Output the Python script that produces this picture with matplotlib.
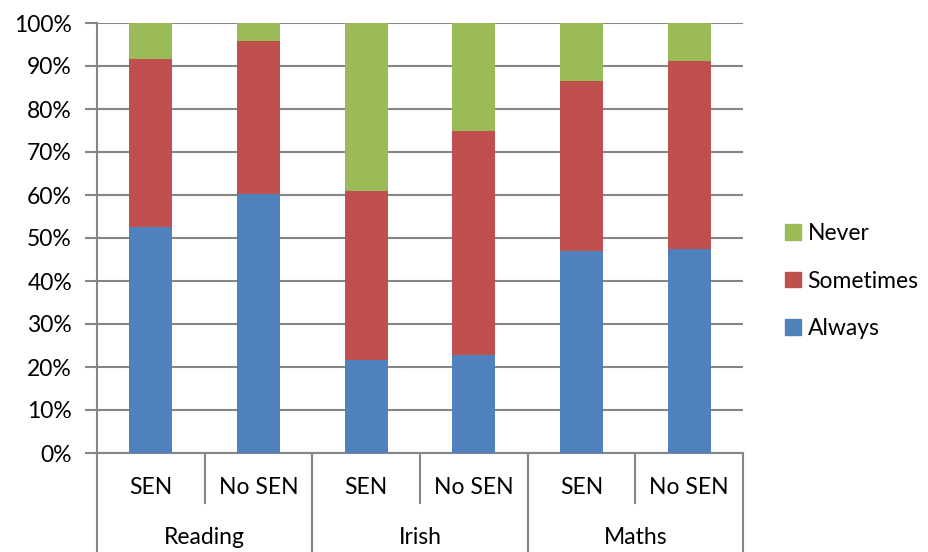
import matplotlib
matplotlib.use("Agg")
import matplotlib.pyplot as plt
from matplotlib.patches import Patch
from matplotlib.ticker import FuncFormatter
import numpy as np

groups = ["Reading", "Irish", "Maths"]
subgroups = ["SEN", "No SEN"]
always = [52.6, 60.2, 21.6, 22.7, 46.9, 47.5]
sometimes = [39.1, 35.7, 39.3, 52.3, 39.7, 43.6]
never = [8.3, 4.1, 39.1, 25.0, 13.4, 8.9]

c_always = "#4F81BD"
c_some = "#C0504D"
c_never = "#9BBB59"
grid_c = "#868686"

plt.rcParams['font.family'] = ['Lato', 'DejaVu Sans']
FS = 16.5

W, H = 929, 552
fig = plt.figure(figsize=(W / 100, H / 100), dpi=100)
L, R, T, B = 97, 743, 23, 453
ax = fig.add_axes([L / W, (H - B) / H, (R - L) / W, (B - T) / H])

x = np.arange(len(always))
bw = 0.4
ax.bar(x, always, bw, color=c_always, zorder=3)
ax.bar(x, sometimes, bw, bottom=always, color=c_some, zorder=3)
bot2 = np.array(always) + np.array(sometimes)
ax.bar(x, never, bw, bottom=bot2, color=c_never, zorder=3)

ax.set_xlim(-0.5, len(always) - 0.5)
ax.set_ylim(0, 100)
ax.set_yticks(np.arange(0, 101, 10))
ax.yaxis.set_major_formatter(FuncFormatter(lambda v, p: f"{int(v)}%"))
ax.tick_params(axis='y', length=9, width=1.5, color=grid_c, labelsize=FS, pad=9)
ax.tick_params(axis='x', length=0, labelbottom=False)
ax.grid(axis='y', color=grid_c, linewidth=1.5, zorder=0)
for s in ['top', 'right']:
    ax.spines[s].set_visible(False)
for s in ['left', 'bottom']:
    ax.spines[s].set_color(grid_c)
    ax.spines[s].set_linewidth(1.5)

# two-level category axis
trans = ax.get_xaxis_transform()
sub_depth = -(503 - B) / (B - T)
grp_depth = -(H - B) / (B - T)
for i, lab in enumerate(subgroups * len(groups)):
    ax.text(x[i], -(488 - B) / (B - T), lab, transform=trans, ha='center', va='center', fontsize=FS)
for g, lab in enumerate(groups):
    ax.text(2 * g + 0.5, -(538 - B) / (B - T), lab, transform=trans, ha='center', va='center', fontsize=FS)
for g in range(len(groups)):
    ax.plot([2 * g + 0.5, 2 * g + 0.5], [0, sub_depth], transform=trans, color=grid_c, lw=1.5, clip_on=False)
for g in range(len(groups) + 1):
    xv = 2 * g - 0.5
    ax.plot([xv, xv], [0, grp_depth], transform=trans, color=grid_c, lw=1.5, clip_on=False)

handles = [Patch(color=c_never, label="Never"), Patch(color=c_some, label="Sometimes"), Patch(color=c_always, label="Always")]
fig.legend(handles=handles, loc='center left', bbox_to_anchor=(785 / W, (H - 281) / H),
           frameon=False, fontsize=FS, handlelength=0.68, handleheight=0.68,
           handletextpad=0.3, labelspacing=1.15, borderpad=0, borderaxespad=0)

fig.savefig("out.png", dpi=100)
